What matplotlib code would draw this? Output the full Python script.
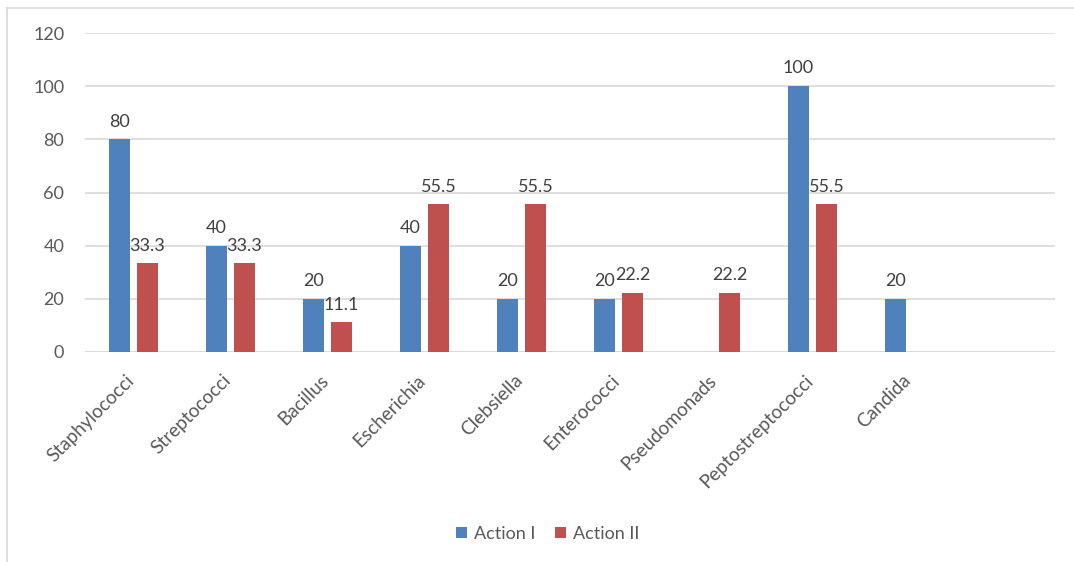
import numpy as np
import matplotlib
matplotlib.use("Agg")
import matplotlib.pyplot as plt
import matplotlib.transforms as mtransforms
from matplotlib.lines import Line2D
from matplotlib.patches import Patch

plt.rcParams['font.family'] = ['Lato', 'DejaVu Sans']

categories = ["Staphylococci", "Streptococci", "Bacillus", "Escherichia", "Clebsiella",
              "Enterococci", "Pseudomonads", "Peptostreptococci", "Candida", ""]
action_1 = [80, 40, 20, 40, 20, 20, np.nan, 100, 20, np.nan]
action_2 = [33.3, 33.3, 11.1, 55.5, 55.5, 22.2, 22.2, 55.5, np.nan, np.nan]
series_names = ["Action I", "Action II"]
y_ticks = [0, 20, 40, 60, 80, 100, 120]

BLUE = "#4F81BD"
RED = "#C0504D"
GRID = "#D9D9D9"
TICK_COLOR = "#595959"
LABEL_COLOR = "#404040"
FS = 13

W, H = 1074, 562
fig = plt.figure(figsize=(W / 100, H / 100), dpi=100)
ax = fig.add_axes([85 / W, (H - 352) / H, 970 / W, (352 - 33) / H])

x = np.arange(len(categories))
bw = 0.216
off = 0.144

b1 = ax.bar(x - off, action_1, width=bw, color=BLUE, zorder=3)
b2 = ax.bar(x + off, action_2, width=bw, color=RED, zorder=3)

def fmt(vals):
    return ["" if np.isnan(v) else f"{v:g}" for v in vals]

ax.bar_label(b1, labels=fmt(action_1), padding=7, fontsize=FS, color=LABEL_COLOR)
ax.bar_label(b2, labels=fmt(action_2), padding=7, fontsize=FS, color=LABEL_COLOR)

ax.set_xlim(-0.5, len(categories) - 0.5)
ax.set_ylim(0, 120)
ax.set_yticks(y_ticks)
ax.yaxis.grid(True, color=GRID, linewidth=1.2, zorder=0)
ax.set_axisbelow(True)
for s in ax.spines.values():
    s.set_visible(False)
ax.axhline(0, color=GRID, linewidth=1.2, zorder=1)

ax.tick_params(axis='y', length=0, pad=15, labelsize=FS, labelcolor=TICK_COLOR)
ax.tick_params(axis='x', length=0, pad=7, labelsize=13.6, labelcolor=TICK_COLOR)
ax.set_xticks(x)
ax.set_xticklabels(categories, rotation=45, ha='right', rotation_mode='anchor')
shift = mtransforms.ScaledTranslation(-8 / 100, -10 / 100, fig.dpi_scale_trans)
for lbl in ax.get_xticklabels():
    lbl.set_transform(lbl.get_transform() + shift)

handles = [Patch(facecolor=BLUE, label=series_names[0]),
           Patch(facecolor=RED, label=series_names[1])]
leg = fig.legend(handles=handles, loc='center', bbox_to_anchor=(548 / W, 1 - 534 / H),
                 ncol=2, frameon=False, fontsize=FS, handlelength=0.6, handleheight=0.6,
                 handletextpad=0.4, columnspacing=1.1)
for t in leg.get_texts():
    t.set_color(TICK_COLOR)

# chart area border (top and left edges)
fig.add_artist(Line2D([7 / W, 1.0], [1 - 8 / H, 1 - 8 / H], color=GRID, linewidth=1.2))
fig.add_artist(Line2D([7 / W, 7 / W], [0.0, 1 - 8 / H], color=GRID, linewidth=1.2))

fig.savefig("out.png", dpi=100, facecolor="white")
